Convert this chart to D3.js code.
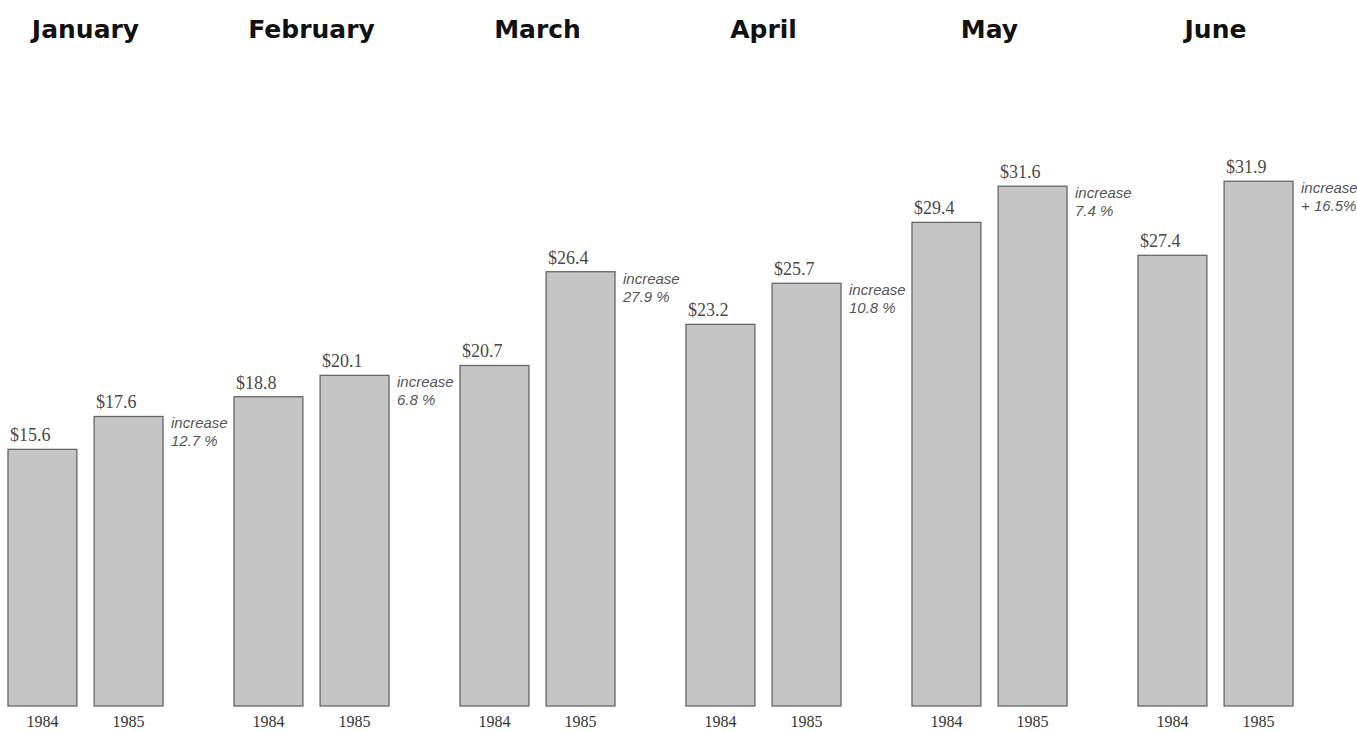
<!DOCTYPE html>
<html>
<head>
<meta charset="utf-8">
<script src="https://cdn.jsdelivr.net/npm/d3@7"></script>
<style>
  body { margin: 0; background: #fff; }
  svg { display: block; }
</style>
</head>
<body>
<svg id="drawing_region"></svg>
<script>
// values (sales, $ millions)
const months = ['January', 'February', 'March', 'April', 'May', 'June'];
const years = ['1984', '1985'];
const sales1984 = [15.6, 18.8, 20.7, 23.2, 29.4, 27.4];
const sales1985 = [17.6, 20.1, 26.4, 25.7, 31.6, 31.9];
const increaseLabels = ['12.7 %', '6.8 %', '27.9 %', '10.8 %', '7.4 %', '+ 16.5%'];

const config = {
    width: 1357,
    height: 731,
    left: 8,
    step: 226,
    groupWidth: 155,
    baseline: 706,
    pxPerUnit: 16.45,
};

const svg = d3.select('#drawing_region')
    .attr('width', config.width)
    .attr('height', config.height);

const data = months.map((m, i) => ({
    month: m,
    values: [
        { year: years[0], value: sales1984[i] },
        { year: years[1], value: sales1985[i] },
    ],
    increase: increaseLabels[i],
}));

// scales
const padIn = 1 - config.groupWidth / config.step;
const xscale = d3.scaleBand()
    .domain(months)
    .range([config.left, config.left + config.step * (months.length - padIn)])
    .paddingInner(padIn)
    .paddingOuter(0)
    .align(0);

const inner = d3.scaleBand()
    .domain(years)
    .range([0, xscale.bandwidth()])
    .paddingInner(0.2)
    .paddingOuter(0);

const yscale = d3.scaleLinear()
    .domain([0, 32])
    .range([config.baseline, config.baseline - 32 * config.pxPerUnit]);

// month titles
svg.append('g')
    .selectAll('text')
    .data(months)
    .join('text')
    .attr('x', d => xscale(d) + xscale.bandwidth() / 2)
    .attr('y', 38)
    .attr('text-anchor', 'middle')
    .attr('font-family', '"DejaVu Sans", sans-serif')
    .attr('font-weight', 'bold')
    .attr('font-size', '25px')
    .attr('fill', '#111')
    .text(d => d);

const groups = svg.selectAll('.group')
    .data(data)
    .join('g')
    .attr('class', 'group')
    .attr('transform', d => `translate(${xscale(d.month)}, 0)`);

// bars
groups.selectAll('rect')
    .data(d => d.values)
    .join('rect')
    .attr('x', d => inner(d.year))
    .attr('y', d => yscale(d.value))
    .attr('width', inner.bandwidth())
    .attr('height', d => yscale(0) - yscale(d.value))
    .attr('fill', '#c5c5c5')
    .attr('stroke', '#666')
    .attr('stroke-width', 1.3);

// value labels
groups.selectAll('.value')
    .data(d => d.values)
    .join('text')
    .attr('class', 'value')
    .attr('x', d => inner(d.year) + 2)
    .attr('y', d => yscale(d.value) - 8)
    .attr('font-family', '"Liberation Serif", "DejaVu Serif", serif')
    .attr('font-size', '18px')
    .attr('fill', '#4a4a4a')
    .text(d => '$' + d.value.toFixed(1));

// year labels
groups.selectAll('.year')
    .data(d => d.values)
    .join('text')
    .attr('class', 'year')
    .attr('x', d => inner(d.year) + inner.bandwidth() / 2)
    .attr('y', 727)
    .attr('text-anchor', 'middle')
    .attr('font-family', '"Liberation Serif", "DejaVu Serif", serif')
    .attr('font-size', '16px')
    .attr('fill', '#333')
    .text(d => d.year);

// increase notes beside the 1985 bar
const note = groups.append('text')
    .attr('font-family', '"Liberation Sans", Arial, sans-serif')
    .attr('font-style', 'italic')
    .attr('font-size', '15px')
    .attr('fill', '#555')
    .attr('transform', d => `translate(${inner('1985') + inner.bandwidth() + 8}, ${yscale(d.values[1].value)})`);

note.append('tspan')
    .attr('x', 0)
    .attr('y', 12)
    .text('increase');

note.append('tspan')
    .attr('x', 0)
    .attr('y', 30)
    .text(d => d.increase);
</script>
</body>
</html>
